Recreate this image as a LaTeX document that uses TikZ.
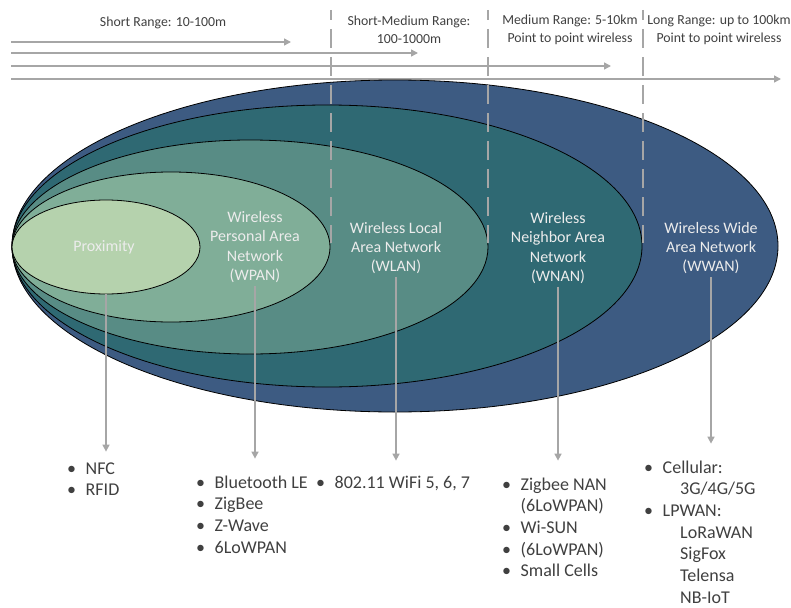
\documentclass[tikz,border=0pt]{standalone}
\usepackage{fontspec}
\setmainfont{Carlito}
\usepackage{xcolor}
\usepackage{tikz}
\usetikzlibrary{arrows.meta, calc, positioning}
\definecolor{wwanblue}{RGB}{61, 91, 130}
\definecolor{wnanteal}{RGB}{47, 105, 115}
\definecolor{wlangreen}{RGB}{88, 140, 133}
\definecolor{wpangreen}{RGB}{128, 174, 152}
\definecolor{proxgreen}{RGB}{181, 210, 173}
\definecolor{rulegrey}{RGB}{166, 166, 166}
\definecolor{txtgrey}{RGB}{64, 64, 64}
\definecolor{labelwhite}{RGB}{236, 236, 236}
\newcommand{\bul}{\makebox[18.5pt][l]{\textbullet}}
\newcommand{\ind}{\hspace*{18.5pt}}

\begin{document}
\begin{tikzpicture}[x=1pt, y=-1pt,
    zone/.style={draw=black, line width=0.8pt},
    rangetxt/.style={txtgrey, align=center, inner sep=0pt, font=\fontsize{13.8}{17.5}\selectfont},
    netlabel/.style={labelwhite, align=center, inner sep=3pt, font=\fontsize{16}{19.2}\selectfont},
    techlist/.style={txtgrey, anchor=base west, inner sep=0pt, font=\fontsize{18}{21.7}\selectfont},
    garrow/.style={rulegrey, line width=1.5pt, -{Triangle[length=7pt, width=7pt]}},
    divider/.style={rulegrey, line width=2pt, dash pattern=on 19pt off 9pt, dash phase=9pt}]
    \useasboundingbox (0,0) rectangle (791,607);

    % Range arrows on top
    \coordinate (sr0) at (11,42);  \coordinate (sr1) at (291,42);
    \coordinate (smr0) at (11,53); \coordinate (smr1) at (418,53);
    \coordinate (mr0) at (11,66);  \coordinate (mr1) at (611,66);
    \coordinate (lr0) at (11,79);  \coordinate (lr1) at (781,79);
    \draw[garrow] (sr0) -- (sr1);
    \draw[garrow] (smr0) -- (smr1);
    \draw[garrow] (mr0) -- (mr1);
    \draw[garrow] (lr0) -- (lr1);

    \node[rangetxt] (shortlbl) at (163,23) {Short Range: 10-100m};
    \node[rangetxt] (smedlbl) at (409,30) {Short-Medium Range:\\100-1000m};
    \node[rangetxt] (medlbl) at (570,30) {Medium Range: 5-10km\\Point to point wireless};
    \node[rangetxt] (longlbl) at (719,30) {Long Range: up to 100km\\Point to point wireless};

    % Nested network areas
    \filldraw[zone, fill=wwanblue] (395,246) ellipse [x radius=383pt, y radius=166pt];
    \filldraw[zone, fill=wnanteal] (327,246) ellipse [x radius=315pt, y radius=141pt];
    \filldraw[zone, fill=wlangreen] (250,247) ellipse [x radius=238pt, y radius=107pt];
    \filldraw[zone, fill=wpangreen] (171,247) ellipse [x radius=159pt, y radius=75pt];
    \filldraw[zone, fill=proxgreen] (106,247) ellipse [x radius=94pt, y radius=47pt];

    % Range borders
    \draw[divider] (331,10) -- (331,243);
    \draw[divider] (488,10) -- (488,243);
    \draw[divider] (643,10) -- (643,243);

    \node[netlabel] (prox) at (104,247) {Proximity};
    \node[netlabel] (wpan) at (255,247) {Wireless\\Personal Area\\Network\\(WPAN)};
    \node[netlabel] (wlan) at (396,248) {Wireless Local\\Area Network\\(WLAN)};
    \node[netlabel] (wnan) at (558,248) {Wireless\\Neighbor Area\\Network\\(WNAN)};
    \node[netlabel] (wwan) at (711,248) {Wireless Wide\\Area Network\\(WWAN)};
    \coordinate (proxbot) at (106,294);

    % Technologies
    \node[techlist] (nfclist) at (67,474) {\begin{tabular}[t]{@{}l@{}}
        \bul NFC\\ \bul RFID\end{tabular}};
    \node[techlist] (wpanlist) at (196,488) {\begin{tabular}[t]{@{}l@{}}
        \bul Bluetooth LE\\ \bul ZigBee\\ \bul Z-Wave\\ \bul 6LoWPAN\end{tabular}};
    \node[techlist] (wlanlist) at (316,488) {\begin{tabular}[t]{@{}l@{}}
        \bul 802.11 WiFi 5, 6, 7\end{tabular}};
    \node[techlist] (wnanlist) at (502,490) {\begin{tabular}[t]{@{}l@{}}
        \bul Zigbee NAN\\ \ind (6LoWPAN)\\ \bul Wi-SUN\\ \bul (6LoWPAN)\\ \bul Small Cells\end{tabular}};
    \node[techlist] (wwanlist) at (644,473) {\begin{tabular}[t]{@{}l@{}}
        \bul Cellular:\\ \ind\hspace*{17.5pt}3G/4G/5G\\ \bul LPWAN:\\
        \ind\hspace*{17.5pt}LoRaWAN\\ \ind\hspace*{17.5pt}SigFox\\
        \ind\hspace*{17.5pt}Telensa\\ \ind\hspace*{17.5pt}NB-IoT\end{tabular}};

    \draw[garrow, shorten >=7pt] (proxbot) -- (proxbot |- nfclist.north);
    \draw[garrow, shorten >=14pt] (wpan.south) -- (wpan.south |- wpanlist.north);
    \draw[garrow, shorten >=12pt] (wlan.south) -- (wlan.south |- wlanlist.north);
    \draw[garrow, shorten >=14pt] (wnan.south) -- (wnan.south |- wnanlist.north);
    \draw[garrow, shorten >=14pt] (wwan.south) -- (wwan.south |- wwanlist.north);
\end{tikzpicture}
\end{document}
